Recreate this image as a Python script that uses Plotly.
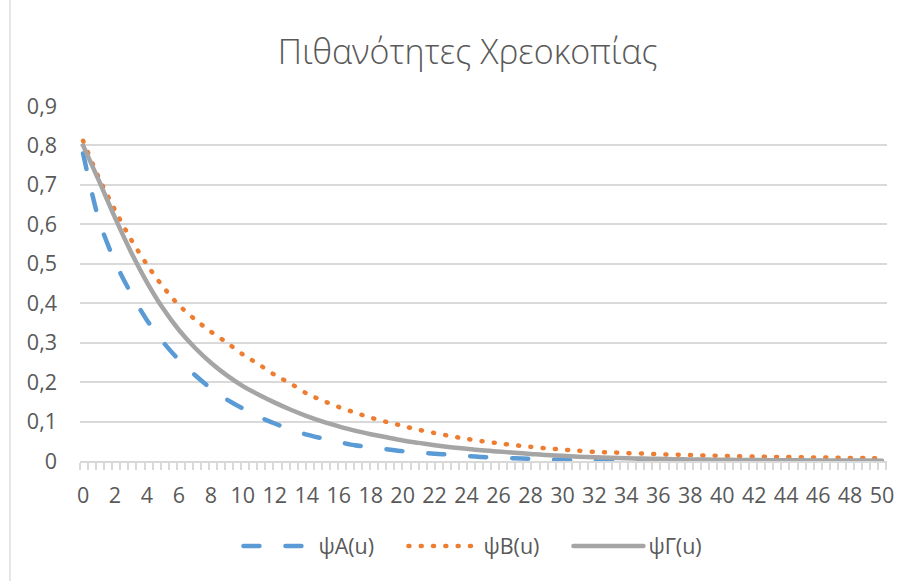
import plotly.graph_objects as go

# ---- data ----
u_values = list(range(0, 51))

psi_A = [0.780, 0.610, 0.505, 0.425, 0.357, 0.302, 0.256, 0.218, 0.184, 0.156,
         0.133, 0.112, 0.095, 0.080, 0.067, 0.057, 0.048, 0.040, 0.035, 0.030,
         0.025, 0.021, 0.0185, 0.016, 0.013, 0.010, 0.0085, 0.007, 0.0055, 0.004,
         0.003, 0.0025, 0.002, 0.0017, 0.0014, 0.0012, 0.001, 0.0009, 0.0008, 0.0007,
         0.0006, 0.0005, 0.0005, 0.0004, 0.0004, 0.0003, 0.0003, 0.0003, 0.0002, 0.0002,
         0.0002]

psi_B = [0.812, 0.717, 0.636, 0.562, 0.498, 0.442, 0.395, 0.359, 0.328, 0.300,
         0.270, 0.245, 0.218, 0.196, 0.171, 0.153, 0.137, 0.123, 0.110, 0.099,
         0.089, 0.079, 0.071, 0.063, 0.056, 0.050, 0.045, 0.040, 0.036, 0.032,
         0.029, 0.026, 0.023, 0.022, 0.020, 0.019, 0.017, 0.016, 0.015, 0.014,
         0.013, 0.012, 0.0113, 0.0107, 0.0100, 0.0094, 0.0089, 0.0084, 0.0079, 0.0075,
         0.0070]

psi_G = [0.800, 0.710, 0.617, 0.530, 0.453, 0.387, 0.332, 0.287, 0.249, 0.217,
         0.190, 0.168, 0.148, 0.130, 0.114, 0.100, 0.088, 0.077, 0.068, 0.060,
         0.052, 0.046, 0.040, 0.035, 0.031, 0.027, 0.024, 0.021, 0.018, 0.015,
         0.013, 0.011, 0.0095, 0.0082, 0.0071, 0.0062, 0.0054, 0.0047, 0.0041, 0.0036,
         0.0031, 0.0027, 0.0024, 0.0021, 0.0018, 0.0016, 0.0014, 0.0012, 0.0011, 0.0010,
         0.0009]

series_names = ["ψA(u)", "ψB(u)", "ψΓ(u)"]
title_text = "Πιθανότητες Χρεοκοπίας"

y_tick_vals = [0, 0.1, 0.2, 0.3, 0.4, 0.5, 0.6, 0.7, 0.8, 0.9]
y_tick_text = ["0", "0,1", "0,2", "0,3", "0,4", "0,5", "0,6", "0,7", "0,8", "0,9"]
x_tick_vals = list(range(0, 51, 2))
x_tick_text = [str(v) for v in x_tick_vals]

# ---- styles ----
FONT = "Open Sans"
TXT = "#595959"
GRID = "#D9D9D9"
TICK_SIZE = 21.5

fig = go.Figure()
fig.add_trace(go.Scatter(x=u_values, y=psi_A, name=series_names[0], mode="lines",
                         line=dict(color="#5B9BD5", width=4.5, dash="16px,26px", shape="spline", smoothing=0.8)))
fig.add_trace(go.Scatter(x=u_values, y=psi_B, name=series_names[1], mode="lines",
                         line=dict(color="#ED7D31", width=4.5, dash="1px,11.3px", shape="spline", smoothing=0.8)))
fig.add_trace(go.Scatter(x=u_values, y=psi_G, name=series_names[2], mode="lines",
                         line=dict(color="#A5A5A5", width=4.5, shape="spline", smoothing=0.8)))

fig.update_layout(
    width=910, height=581,
    margin=dict(l=80, r=23, t=106, b=120, autoexpand=False),
    paper_bgcolor="white", plot_bgcolor="white",
    font=dict(family=FONT, color=TXT, size=TICK_SIZE),
    title=dict(text=title_text, x=0.514, xanchor="center", y=1 - 52 / 581, yanchor="middle",
               yref="container", xref="container",
               font=dict(family=FONT, size=34, color=TXT, weight=300)),
    showlegend=True,
    legend=dict(orientation="h", x=0.534, xanchor="center", y=1 - 546 / 581, yanchor="middle",
                xref="container", yref="container", itemwidth=70,
                entrywidth=80, entrywidthmode="pixels",
                font=dict(family=FONT, size=TICK_SIZE, color=TXT), bgcolor="rgba(0,0,0,0)"),
    xaxis=dict(range=[-0.19, 50.31], tickmode="array", tickvals=x_tick_vals, ticktext=x_tick_text,
               showgrid=False, zeroline=False, showline=True, linecolor=GRID, linewidth=1.5,
               ticks="", ticklabelstandoff=14, tickfont=dict(family=FONT, size=TICK_SIZE, color=TXT),
               minor=dict(ticks="outside", ticklen=7, tickcolor=GRID, tickwidth=1.5,
                          tick0=-0.19, dtick=0.5045, showgrid=False)),
    yaxis=dict(range=[0, 0.9], tickmode="array", tickvals=y_tick_vals, ticktext=y_tick_text,
               showgrid=True, gridcolor=GRID, gridwidth=1.5, zeroline=False, showline=False,
               ticks="", ticklabelstandoff=22, tickfont=dict(family=FONT, size=TICK_SIZE, color=TXT)),
    shapes=[dict(type="line", xref="paper", yref="paper", x0=(10 - 80) / 807, x1=(10 - 80) / 807,
                 y0=-2, y1=2, line=dict(color=GRID, width=1.3))],
)

post = """
document.body.style.margin='0';
document.documentElement.style.margin='0';
var s=document.createElement('style');
s.textContent='.js-line{stroke-linecap:round;}';
document.head.appendChild(s);
"""
fig.write_html("out.html", post_script=post, config={"displayModeBar": False})
